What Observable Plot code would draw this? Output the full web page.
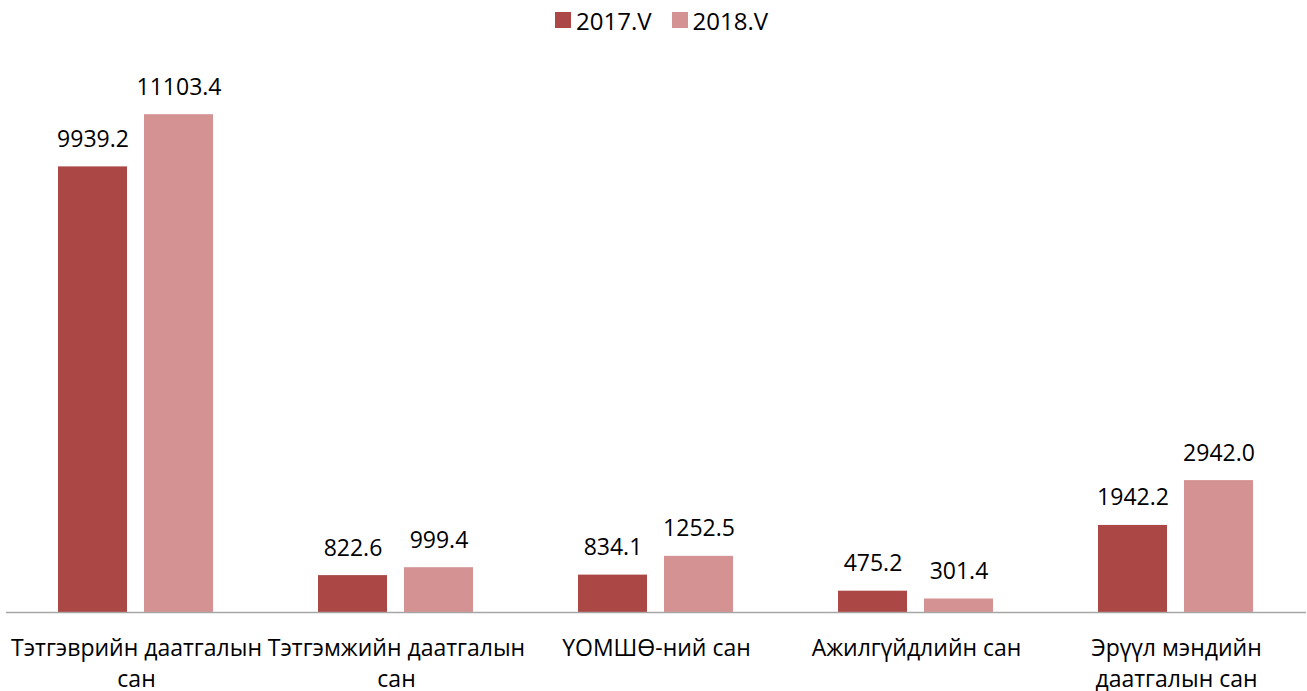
<!DOCTYPE html>
<html>
<head>
<meta charset="utf-8">
<script src="https://cdn.jsdelivr.net/npm/d3@7"></script>
<script src="https://cdn.jsdelivr.net/npm/@observablehq/plot@0.6"></script>
<style>
  body { margin: 0; background: #fff; font-family: "Open Sans", sans-serif; }
  #legend { height: 40px; display: flex; justify-content: center; align-items: center; gap: 20px; font-size: 24px; color: #000; padding-left: 16px; box-sizing: border-box; }
  #legend .item { display: flex; align-items: center; gap: 5px; }
  #legend .sw { width: 16px; height: 16px; display: inline-block; }
</style>
</head>
<body>
<div id="legend"></div>
<div id="chart"></div>
<script>
const categories = ["Тэтгэврийн даатгалын сан", "Тэтгэмжийн даатгалын сан", "ҮОМШӨ-ний сан", "Ажилгүйдлийн сан", "Эрүүл мэндийн даатгалын сан"];
const tickLabels = ["Тэтгэврийн даатгалын\nсан", "Тэтгэмжийн даатгалын\nсан", "ҮОМШӨ-ний сан", "Ажилгүйдлийн сан", "Эрүүл мэндийн\nдаатгалын сан"];
const seriesNames = ["2017.V", "2018.V"];
const values2017 = [9939.2, 822.6, 834.1, 475.2, 1942.2];
const values2018 = [11103.4, 999.4, 1252.5, 301.4, 2942.0];
const seriesColors = ["#AB4744", "#D49392"];

const data = [];
categories.forEach((c, i) => {
  data.push({category: c, series: seriesNames[0], value: values2017[i]});
  data.push({category: c, series: seriesNames[1], value: values2018[i]});
});

const legend = document.getElementById("legend");
seriesNames.forEach((s, i) => {
  const item = document.createElement("span");
  item.className = "item";
  const sw = document.createElement("span");
  sw.className = "sw";
  sw.style.background = seriesColors[i];
  const t = document.createElement("span");
  t.textContent = s;
  item.appendChild(sw); item.appendChild(t);
  legend.appendChild(item);
});

const chart = Plot.plot({
  width: 1307,
  height: 651,
  marginLeft: 5,
  marginRight: 0,
  marginTop: 34,
  marginBottom: 79,
  style: {fontFamily: "Open Sans", fontSize: "23px", color: "#000", background: "#fff"},
  fx: {domain: categories, padding: 0, label: null},
  x: {domain: seriesNames, paddingInner: 0.195, paddingOuter: 0.594, axis: null},
  y: {domain: [0, 12000], axis: null},
  color: {domain: seriesNames, range: seriesColors},
  marks: [
    Plot.barY(data, {fx: "category", x: "series", y: "value", fill: "series"}),
    Plot.ruleY([0], {stroke: "#A6A6A6", strokeWidth: 1.5}),
    Plot.text(data, {fx: "category", x: "series", y: "value", text: d => d.value.toFixed(1), lineAnchor: "bottom", dy: -20, fill: "#000", fontSize: 23}),
    Plot.axisFx({anchor: "bottom", tickSize: 0, tickPadding: 22, fontSize: 23, lineHeight: 1.33, label: null,
      tickFormat: d => tickLabels[categories.indexOf(d)], fill: "#000"})
  ]
});
document.getElementById("chart").appendChild(chart);
</script>
</body>
</html>
